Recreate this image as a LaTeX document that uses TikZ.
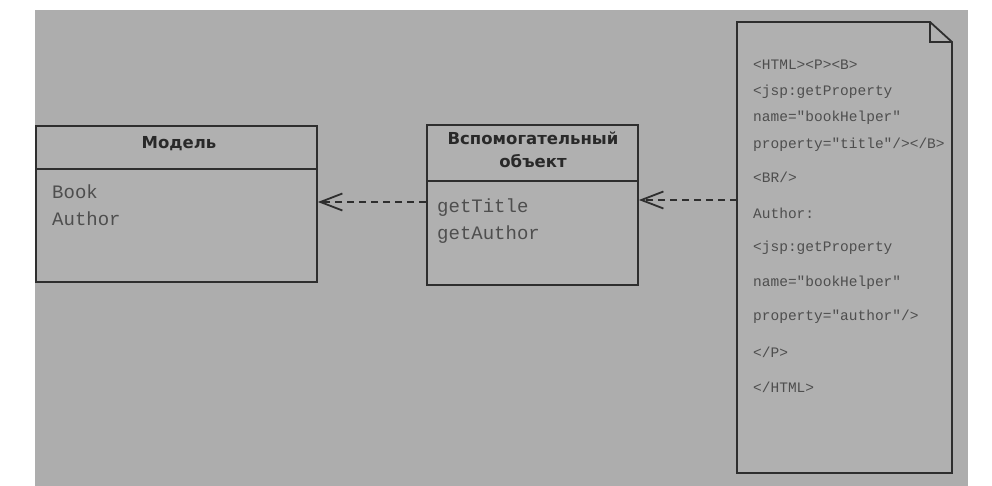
\documentclass[tikz,border=0pt]{standalone}
\usepackage{fontspec}
\usetikzlibrary{arrows.meta}
\newfontfamily\titlefont{DejaVu Sans}
\newfontfamily\codefont{Liberation Mono}
\definecolor{paper}{HTML}{ADADAD}
\definecolor{boxfill}{HTML}{B0B0B0}
\definecolor{ink}{HTML}{2E2E2E}
\definecolor{codeink}{HTML}{4E4E4E}
\begin{document}
\begin{tikzpicture}[x=1pt,y=-1pt,
  umlbox/.style={draw=ink, line width=1.8pt, fill=boxfill, rectangle, inner sep=0pt},
  titletext/.style={font=\titlefont\bfseries\fontsize{16.5}{23}\selectfont, text=ink!90!black, align=center, inner sep=0pt},
  membertext/.style={font=\codefont\fontsize{19}{27}\selectfont, text=codeink, anchor=west, inner sep=0pt},
  doctext/.style={font=\codefont\fontsize{14.5}{18}\selectfont, text=codeink, anchor=west, inner sep=0pt},
  depend/.style={draw=ink, line width=1.6pt, dash pattern=on 7pt off 5pt,
    -{Straight Barb[length=22pt,width=17pt,line width=1.8pt]}}
  ]
\useasboundingbox (0,0) rectangle (992,486);
\fill[white] (0,0) rectangle (992,486);
\fill[paper] (35,10) rectangle (968,486);

% Model box
\node[umlbox, minimum width=281pt, minimum height=156pt] (model) at (176.5,204) {};
\coordinate (mdiv) at (0,169);
\draw[ink, line width=1.8pt] (model.west |- mdiv) -- (model.east |- mdiv);
\node[titletext] (mtitle) at (179,144) {Модель};
\node[membertext] (mbook) at (52,192) {Book};
\node[membertext] (mauthor) at (52,219) {Author};

% Helper box
\node[umlbox, minimum width=211pt, minimum height=160pt] (helper) at (532.5,205) {};
\coordinate (hdiv) at (0,181);
\draw[ink, line width=1.8pt] (helper.west |- hdiv) -- (helper.east |- hdiv);
\node[titletext] (htitle1) at (533,138) {Вспомогательный};
\node[titletext] (htitle2) at (533,161) {объект};
\node[membertext] (hget1) at (437,208) {getTitle};
\node[membertext] (hget2) at (437,235) {getAuthor};

% Document (page with folded corner)
\coordinate (dtl) at (737,22);
\coordinate (dfold) at (930,22);
\coordinate (dfoldin) at (930,42);
\coordinate (dfr) at (952,42);
\coordinate (dbr) at (952,473);
\coordinate (dbl) at (737,473);
\fill[boxfill] (dtl) -- (dfold) -- (dfr) -- (dbr) -- (dbl) -- cycle;
\draw[ink, line width=1.8pt, line join=miter] (dtl) -- (dfold) -- (dfr) -- (dbr) -- (dbl) -- cycle;
\draw[ink, line width=1.4pt] (dfold) -- (dfoldin) -- (dfr);

\node[doctext] (l1) at (753,65) {<HTML><P><B>};
\node[doctext] (l2) at (753,92) {<jsp:getProperty};
\node[doctext] (l3) at (753,118) {name="bookHelper"};
\node[doctext] (l4) at (753,145) {property="title"/></B>};
\node[doctext] (l5) at (753,177) {<BR/>};
\node[doctext] (l6) at (753,213) {Author:};
\node[doctext] (l7) at (753,248) {<jsp:getProperty};
\node[doctext] (l8) at (753,283) {name="bookHelper"};
\node[doctext] (l9) at (753,317) {property="author"/>};
\node[doctext] (l10) at (753,352) {</P>};
\node[doctext] (l11) at (753,387) {</HTML>};

% Dependencies
\coordinate (a1) at (0,202);
\draw[depend] (helper.west |- a1) -- (model.east |- a1);
\coordinate (docleft) at (737,200);
\draw[depend] (docleft) -- (helper.east |- docleft);
\end{tikzpicture}
\end{document}
